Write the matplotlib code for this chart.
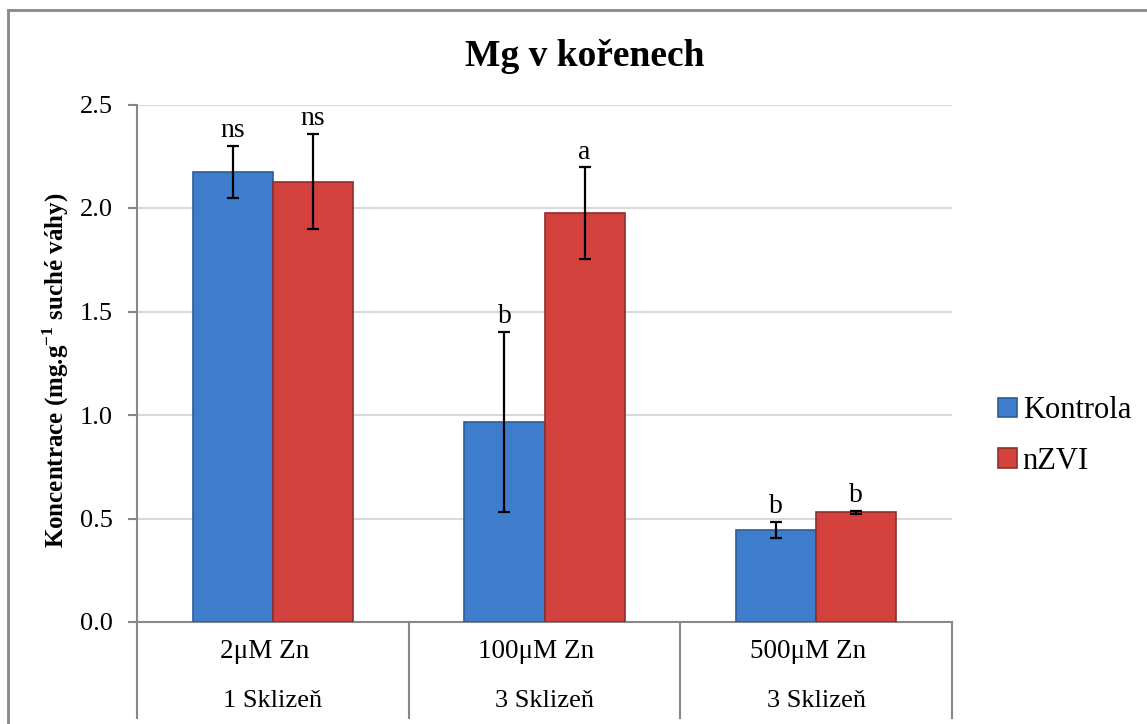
import numpy as np
import matplotlib.pyplot as plt
from matplotlib.lines import Line2D
from matplotlib.transforms import blended_transform_factory

plt.rcParams['font.family'] = ['Liberation Serif', 'DejaVu Serif']
plt.rcParams['mathtext.fontset'] = 'custom'
plt.rcParams['mathtext.rm'] = 'Liberation Serif'
plt.rcParams['mathtext.bf'] = 'Liberation Serif:bold'

davky = ['2μM Zn', '100μM Zn', '500μM Zn']
sklizne = ['1 Sklizeň', '3 Sklizeň', '3 Sklizeň']
kontrola = [2.175, 0.966, 0.444]
kontrola_err = [0.126, 0.435, 0.04]
nzvi = [2.127, 1.976, 0.53]
nzvi_err = [0.23, 0.22, 0.007]
pismena_k = ['ns', 'b', 'b']
pismena_n = ['ns', 'a', 'b']

fig = plt.figure(figsize=(11.47, 7.24), dpi=100)
ax = fig.add_axes([137/1147, 102/724, (952-137)/1147, (622-104.5)/724])

x = np.arange(len(davky))
w = 0.295
modra = '#3E7CCC'
cervena = '#D3413D'
ax.bar(x - w/2, kontrola, w, color=modra, edgecolor='#2C5C9A', linewidth=1.2,
       label='Kontrola', zorder=3)
ax.bar(x + w/2, nzvi, w, color=cervena, edgecolor='#8E2E2B', linewidth=1.2,
       label='nZVI', zorder=3)
ax.errorbar(x - w/2, kontrola, yerr=kontrola_err, fmt='none', ecolor='black',
            elinewidth=1.6, capsize=4.5, capthick=1.6, zorder=4)
ax.errorbar(x + w/2, nzvi, yerr=nzvi_err, fmt='none', ecolor='black',
            elinewidth=1.6, capsize=4.5, capthick=1.6, zorder=4)

# pismena nad chybovymi useckami
for xi, v, e, t in zip(x - w/2, kontrola, kontrola_err, pismena_k):
    ax.annotate(t, (xi, v + e), xytext=(0, 11), textcoords='offset points',
                ha='center', va='center', fontsize=20)
for xi, v, e, t in zip(x + w/2, nzvi, nzvi_err, pismena_n):
    ax.annotate(t, (xi, v + e), xytext=(0, 11), textcoords='offset points',
                ha='center', va='center', fontsize=20)

ax.set_xlim(-0.5, 2.5)
ax.set_ylim(0, 2.5)
ax.set_yticks(np.arange(0, 2.51, 0.5))
ax.yaxis.set_major_formatter(plt.FormatStrFormatter('%.1f'))
ax.tick_params(axis='y', labelsize=19, length=6.5, width=1.5,
               color='#888888', pad=11)
ax.tick_params(axis='x', bottom=False, labelbottom=False)
ax.grid(axis='y', color='#D9D9D9', linewidth=1.5, zorder=0)
ax.set_axisbelow(True)
for s in ['top', 'right']:
    ax.spines[s].set_visible(False)
ax.spines['left'].set_color('#888888')
ax.spines['bottom'].set_color('#888888')
ax.spines['left'].set_linewidth(1.5)
ax.spines['bottom'].set_linewidth(1.5)

ax.set_ylabel('Koncentrace (mg.g$^{\\mathbf{-1}}$ suché váhy)', fontsize=18,
              fontweight='bold')
ax.yaxis.set_label_coords(-66/815, 0.487)

# tabulka kategorii pod osou
tr = blended_transform_factory(ax.transData, ax.transAxes)
dole = -(718 - 622) / 517.5
for xs in np.arange(-0.5, 3.0, 1.0):
    ax.plot([xs, xs], [0, dole], transform=tr, color='#888888', lw=1.5,
            clip_on=False)
for xi, d, s in zip(x, davky, sklizne):
    ax.text(xi - 0.03, -30/517.5, d, transform=tr, ha='center', va='center',
            fontsize=19.5)
    ax.text(xi, -79/517.5, s, transform=tr, ha='center', va='center',
            fontsize=19)

fig.text(585/1147, 1 - 56/724, 'Mg v kořenech', ha='center', va='center',
         fontsize=27, fontweight='bold')

ax.legend(loc='center left', bbox_to_anchor=(986/1147, 1 - 436/724),
          bbox_transform=fig.transFigure, frameon=False, fontsize=22,
          handlelength=0.6, handleheight=0.6, handletextpad=0.2,
          labelspacing=0.7, borderaxespad=0)

# ramecek grafu
fig.add_artist(Line2D([8/1147, 8/1147], [0, 1 - 10/724], color='#888888',
                      lw=2, transform=fig.transFigure))
fig.add_artist(Line2D([8/1147, 1], [1 - 10/724, 1 - 10/724], color='#888888',
                      lw=2, transform=fig.transFigure))

fig.savefig('out.png', dpi=100)
